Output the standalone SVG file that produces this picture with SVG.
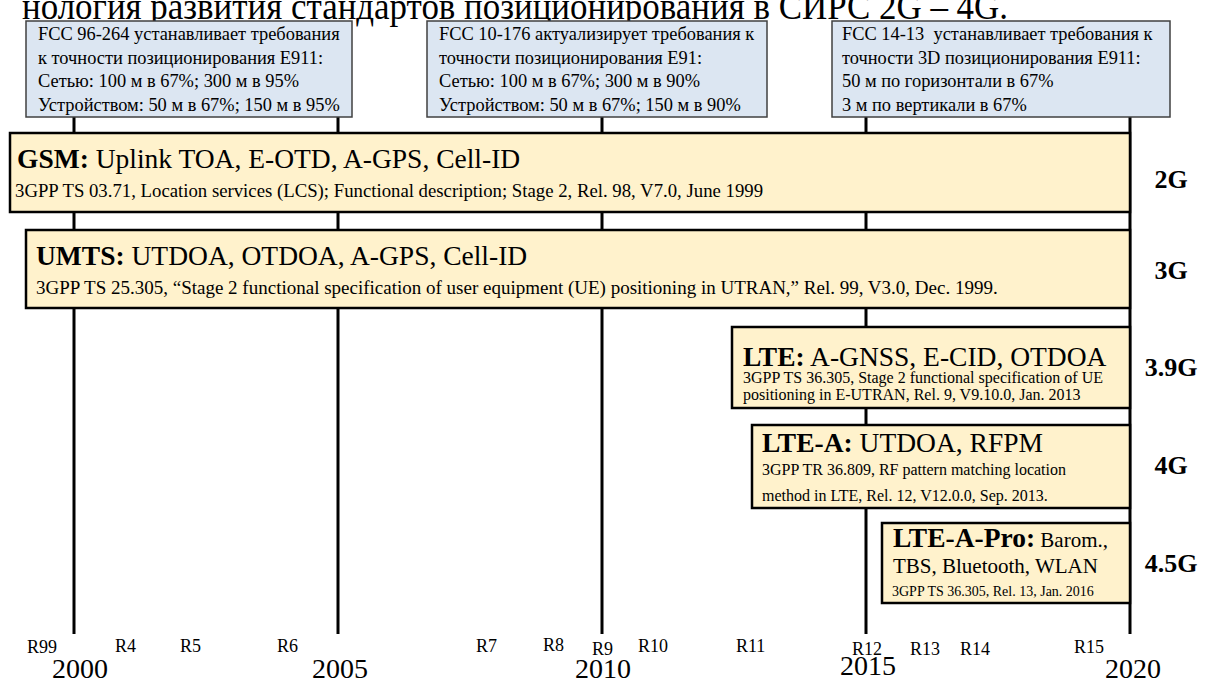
<svg xmlns="http://www.w3.org/2000/svg" width="1207" height="682" viewBox="0 0 1207 682">
<style>
text{font-family:"Liberation Serif","Times New Roman",serif;fill:#000}
.fcc rect{fill:#dce6f2;stroke:#404040;stroke-width:1.5}
.fcc text{font-size:18.4px}
.std rect{fill:#fff2cc;stroke:#000;stroke-width:2.5}
.t{font-size:27.5px}
.b{font-weight:bold}
.s{font-size:18.75px}
.s16{font-size:16px}
.gen{font-size:26px;font-weight:bold;text-anchor:middle}
.rel{font-size:18px}
.yr{font-size:28px;text-anchor:middle}
.ln{stroke:#000;stroke-width:3}
</style>
<rect width="1207" height="682" fill="#fff"/>
<text x="22" y="18.5" font-size="38" textLength="986" lengthAdjust="spacingAndGlyphs">нология развития стандартов позиционирования в СИРС 2G – 4G.</text>

<g id="connectors">
<line class="ln" x1="74" y1="117" x2="74" y2="634"/>
<line class="ln" x1="338" y1="117" x2="338" y2="634"/>
<line class="ln" x1="602" y1="117" x2="602" y2="634"/>
<line class="ln" x1="866" y1="117" x2="866" y2="634"/>
<line class="ln" x1="1130" y1="117" x2="1130" y2="634"/>
</g>

<g id="fcc96" class="fcc">
<rect x="26" y="21" width="326" height="96"/>
<text x="38" y="40">FCC 96-264 устанавливает требования</text>
<text x="38" y="63.5">к точности позиционирования E911:</text>
<text x="38" y="87">Сетью: 100 м в 67%; 300 м в 95%</text>
<text x="38" y="110.5">Устройством: 50 м в 67%; 150 м в 95%</text>
</g>
<g id="fcc10" class="fcc">
<rect x="427" y="21" width="340" height="96"/>
<text x="439" y="40">FCC 10-176 актуализирует требования к</text>
<text x="439" y="63.5">точности позиционирования E91:</text>
<text x="439" y="87">Сетью: 100 м в 67%; 300 м в 90%</text>
<text x="439" y="110.5">Устройством: 50 м в 67%; 150 м в 90%</text>
</g>
<g id="fcc14" class="fcc">
<rect x="832" y="21" width="338" height="96"/>
<text x="842" y="40" xml:space="preserve">FCC 14-13  устанавливает требования к</text>
<text x="842" y="63.5">точности 3D позиционирования E911:</text>
<text x="842" y="87">50 м по горизонтали в 67%</text>
<text x="842" y="110.5">3 м по вертикали в 67%</text>
</g>

<g id="gsm" class="std">
<rect x="10" y="133" width="1120" height="79"/>
<text x="17" y="168" class="t"><tspan class="b">GSM:</tspan> Uplink TOA, E-OTD, A-GPS, Cell-ID</text>
<text x="15" y="197" class="s">3GPP TS 03.71, Location services (LCS); Functional description; Stage 2, Rel. 98, V7.0, June 1999</text>
</g>
<g id="umts" class="std">
<rect x="26" y="230" width="1104" height="78"/>
<text x="36" y="265" class="t"><tspan class="b">UMTS:</tspan> UTDOA, OTDOA, A-GPS, Cell-ID</text>
<text x="36" y="294" font-size="19">3GPP TS 25.305, “Stage 2 functional specification of user equipment (UE) positioning in UTRAN,” Rel. 99, V3.0, Dec. 1999.</text>
</g>
<g id="lte" class="std">
<rect x="732" y="327" width="398" height="81"/>
<text x="743" y="366" class="t"><tspan class="b">LTE:</tspan> A-GNSS, E-CID, OTDOA</text>
<text x="743" y="383" class="s16">3GPP TS 36.305, Stage 2 functional specification of UE</text>
<text x="743" y="400" class="s16">positioning in E-UTRAN, Rel. 9, V9.10.0, Jan. 2013</text>
</g>
<g id="ltea" class="std">
<rect x="752" y="425" width="378" height="83"/>
<text x="762" y="452" class="t"><tspan class="b">LTE-A:</tspan> UTDOA, RFPM</text>
<text x="762" y="475" class="s16">3GPP TR 36.809, RF pattern matching location</text>
<text x="762" y="501" class="s16">method in LTE, Rel. 12, V12.0.0, Sep. 2013.</text>
</g>
<g id="lteapro" class="std">
<rect x="882" y="523" width="248" height="80"/>
<text x="893" y="547"><tspan class="t b">LTE-A-Pro:</tspan><tspan font-size="21"> Barom.,</tspan></text>
<text x="893" y="573" font-size="21">TBS, Bluetooth, WLAN</text>
<text x="892" y="596" font-size="14">3GPP TS 36.305, Rel. 13, Jan. 2016</text>
</g>

<g id="generations">
<text class="gen" x="1171" y="188">2G</text>
<text class="gen" x="1171" y="279">3G</text>
<text class="gen" x="1171" y="376">3.9G</text>
<text class="gen" x="1171" y="474">4G</text>
<text class="gen" x="1171" y="572">4.5G</text>
</g>

<g id="releases">
<text class="rel" x="27" y="653">R99</text>
<text class="rel" x="115" y="652">R4</text>
<text class="rel" x="180" y="652">R5</text>
<text class="rel" x="277" y="652">R6</text>
<text class="rel" x="476" y="652">R7</text>
<text class="rel" x="543" y="651">R8</text>
<text class="rel" x="592" y="655">R9</text>
<text class="rel" x="638" y="652">R10</text>
<text class="rel" x="736" y="652">R11</text>
<text class="rel" x="852" y="655">R12</text>
<text class="rel" x="910" y="655">R13</text>
<text class="rel" x="960" y="655">R14</text>
<text class="rel" x="1074" y="653">R15</text>
</g>
<g id="years">
<text class="yr" x="80" y="678">2000</text>
<text class="yr" x="340" y="678">2005</text>
<text class="yr" x="603" y="678">2010</text>
<text class="yr" x="868" y="675">2015</text>
<text class="yr" x="1133" y="678">2020</text>
</g>
</svg>
